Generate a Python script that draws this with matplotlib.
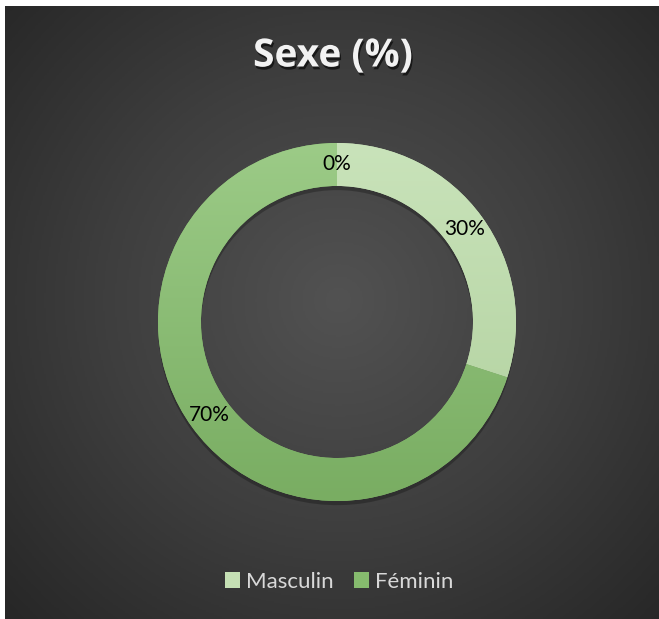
import matplotlib.pyplot as plt
import matplotlib.patheffects as pe
import numpy as np
from matplotlib.colors import LinearSegmentedColormap

# data
categories = ["Masculin", "Féminin", ""]
values = [30, 70, 0]
title = "Sexe (%)"

plt.rcParams['font.family'] = ['Lato', 'DejaVu Sans']

W, H = 659, 619
fig = plt.figure(figsize=(W / 100, H / 100), dpi=100, facecolor="white")

# dark radial background (white strip left / top)
bg = fig.add_axes([5 / W, 0, (W - 5) / W, (H - 6) / H])
bg.set_axis_off()
yy, xx = np.mgrid[0:1:400j, 0:1:400j]
r = np.sqrt((xx - 0.51) ** 2 + ((yy - 0.52) * 0.95) ** 2)
bg_cmap = LinearSegmentedColormap.from_list("bg", ["#525252", "#3e3e3e", "#262626"])
bg.imshow(np.clip(r / 0.72, 0, 1), cmap=bg_cmap, vmin=0, vmax=1,
          extent=(0, 1, 0, 1), aspect="auto", origin="lower")
bg.set_xlim(0, 1)
bg.set_ylim(0, 1)

# donut
cx, cy, rad = 337, H - 322, 179
ax = fig.add_axes([(cx - rad) / W, (cy - rad) / H, 2 * rad / W, 2 * rad / H])
ax.set_axis_off()
wedges, texts, autotexts = ax.pie(
    values, startangle=90, counterclock=False, radius=1,
    wedgeprops=dict(width=0.24, linewidth=0),
    autopct=lambda p: f"{p:.0f}%", pctdistance=0.88,
    textprops=dict(color="black", fontsize=15))
ax.set_xlim(-1, 1)
ax.set_ylim(-1, 1)
ax.set_aspect("equal")

grads = [["#b0d09d", "#c9e3ba"], ["#79ad62", "#9ccb87"], ["#79ad62", "#9ccb87"]]
solid = ["#c5e0b4", "#86bb6e", "#86bb6e"]
grad = np.linspace(0, 1, 256).reshape(-1, 1)
for w, g, c in zip(wedges, grads, solid):
    w.set_facecolor(c)
    cm = LinearSegmentedColormap.from_list("g", g)
    im = ax.imshow(grad, cmap=cm, extent=(-1, 1, -1, 1), origin="lower",
                   aspect="auto", zorder=w.get_zorder() + 0.5)
    im.set_clip_path(w)
for w in wedges:
    w.set_path_effects([pe.SimplePatchShadow(offset=(0, -3), shadow_rgbFace="black", alpha=0.25),
                        pe.Normal()])
for t in autotexts:
    t.set_zorder(5)

# title
fig.text(333 / W, 1 - 56 / H, title, ha="center", va="center", fontsize=28,
         fontweight="bold", color="#f2f2f2", family=["Open Sans", "Lato"],
         path_effects=[pe.withSimplePatchShadow(offset=(1, -2), shadow_rgbFace="black", alpha=0.6)])

# legend
leg = fig.legend(wedges[:2], categories[:2], loc="center", bbox_to_anchor=(339 / W, 1 - 582 / H),
                 ncol=2, frameon=False, fontsize=16, labelcolor="#d9d9d9",
                 handlelength=0.7, handleheight=0.7, handletextpad=0.25, columnspacing=0.9)
for h in leg.legend_handles:
    h.set_path_effects([])

fig.savefig("out.png", dpi=100, facecolor="white")
